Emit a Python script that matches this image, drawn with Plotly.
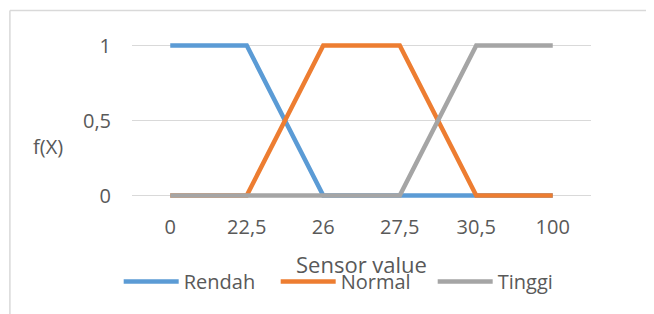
import plotly.graph_objects as go

categories = ["0", "22,5", "26", "27,5", "30,5", "100"]
rendah = [1, 1, 0, 0, 0, 0]
normal = [0, 0, 1, 1, 0, 0]
tinggi = [0, 0, 0, 0, 1, 1]
y_ticks = [0, 0.5, 1]
y_tick_labels = ["0", "0,5", "1"]

FONT = "Open Sans"
TXT = "#595959"

fig = go.Figure()
for name, vals, col in [("Rendah", rendah, "#5B9BD5"),
                        ("Normal", normal, "#ED7D31"),
                        ("Tinggi", tinggi, "#A5A5A5")]:
    fig.add_trace(go.Scatter(x=categories, y=vals, mode="lines", name=name,
                             line=dict(color=col, width=4.5)))

fig.update_layout(
    width=646, height=306,
    margin=dict(l=124, r=63, t=30, b=111, autoexpand=False),
    paper_bgcolor="white", plot_bgcolor="white",
    font=dict(family=FONT, size=20, color=TXT),
    showlegend=True,
    legend=dict(orientation="h", x=-0.029, xanchor="left", y=-0.476, yanchor="middle",
                font=dict(family=FONT, size=20, color=TXT),
                itemwidth=55, entrywidth=87, bgcolor="rgba(0,0,0,0)"),
    xaxis=dict(type="category", range=[-0.5, 5.5], showgrid=False, showline=False,
               ticks="", tickfont=dict(size=20, color=TXT), zeroline=False,
               automargin=False, ticklabelstandoff=10),
    yaxis=dict(range=[-0.05, 1.05], tickvals=y_ticks, ticktext=y_tick_labels,
               showgrid=True, gridcolor="#D9D9D9", gridwidth=1, zeroline=False,
               showline=False, ticks="", ticklabelstandoff=20, automargin=False,
               tickfont=dict(size=20, color=TXT)),
    annotations=[
        dict(text="f(X)", xref="paper", yref="paper", x=-0.183, y=0.344,
             showarrow=False, xanchor="center", yanchor="middle",
             font=dict(family=FONT, size=20, color=TXT)),
        dict(text="Sensor value", xref="paper", yref="paper", x=0.499, y=-0.37,
             showarrow=False, xanchor="center", yanchor="middle",
             font=dict(family=FONT, size=22, color=TXT)),
    ],
    shapes=[
        dict(type="line", xref="paper", yref="paper", x0=-0.266, x1=1.2, y0=1.167, y1=1.167,
             line=dict(color="#D9D9D9", width=1.5)),
        dict(type="line", xref="paper", yref="paper", x0=-0.266, x1=-0.266, y0=1.167, y1=-0.8,
             line=dict(color="#D9D9D9", width=1.5)),
    ],
)
fig.write_html("out.html")
